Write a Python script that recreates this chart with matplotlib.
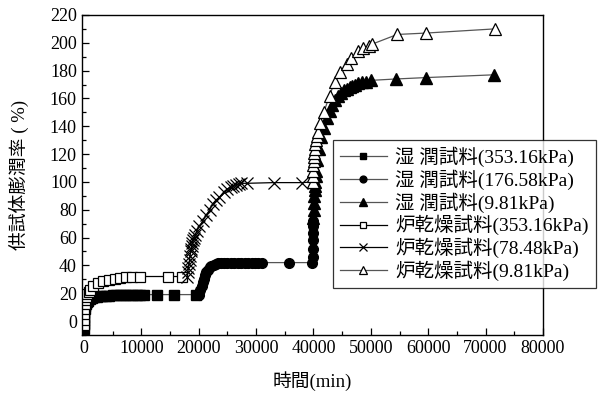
import matplotlib
matplotlib.use('Agg')
import matplotlib.pyplot as plt
from matplotlib.ticker import MultipleLocator

plt.rcParams['font.family'] = ['Liberation Serif', 'Noto Sans CJK JP']
plt.rcParams['axes.unicode_minus'] = False

# 湿潤試料 353.16kPa
wet353_x = [0, 0, 0, 0, 100, 200, 350, 500, 700, 1000, 1400, 1800, 2200, 2700, 3200, 3800, 4400, 5000, 5600,
            6200, 6800, 7400, 8000, 8600, 9200, 9800, 10500, 12650, 15770, 19570]
wet353_y = [-6, -2, 2, 6, 9, 11, 12.5, 13.5, 14.5, 15.5, 16.4, 17, 17.5, 17.8, 18, 18.2, 18.3, 18.4, 18.5,
            18.6, 18.7, 18.7, 18.8, 18.8, 18.9, 18.9, 19, 19, 19, 19]
# 湿潤試料 176.58kPa
wet176_x = [20100, 20300, 20500, 20700, 20900, 21100, 21300, 21600, 21900, 22200, 22600, 23000, 23400, 23900,
            24400, 25000, 25600, 26200, 26800, 27400, 28000, 28600, 29200, 29800, 30400, 31000, 35700,
            39700, 39900, 40000, 40000, 40000, 40000, 40000]
wet176_y = [19, 22, 25, 28, 30.5, 33, 35, 37, 38.5, 39.5, 40.5, 41.2, 41.6, 41.8,
            42, 42, 42, 42, 42, 42, 42, 42, 42, 42, 42, 42, 42,
            42, 46, 52, 58, 63, 68, 72]
# 湿潤試料 9.81kPa
wet981_x = [40000, 40050, 40100, 40150, 40200, 40250, 40300, 40400, 40500, 40700, 41000, 41400, 41800, 42300,
            42800, 43300, 43800, 44300, 44800, 45300, 45800, 46300, 46800, 47300, 47800, 48500, 49200, 50000,
            54400, 59600, 71500]
wet981_y = [74, 80, 85, 90, 94, 97, 100, 104, 108, 116, 124, 132, 139, 146,
            151, 155, 159, 162, 164, 166, 167, 168, 169, 170, 171, 171.5, 172, 173,
            174, 175, 177]
# 炉乾燥試料 353.16kPa
dry353_x = [0, 0, 0, 50, 100, 200, 350, 550, 800, 1100, 1600, 2400, 3300, 4300, 5400, 6200, 7300, 8300,
            9700, 14600, 17000]
dry353_y = [-3, 1, 5, 9, 12, 15, 17.5, 19.5, 21, 22.5, 25, 27.5, 28.6, 29.5, 30.5, 31, 31.5, 31.8,
            32, 32, 32]
# 炉乾燥試料 78.48kPa
dry78_x = [18000, 18100, 18200, 18300, 18400, 18500, 18600, 18700, 18800, 18900, 19000, 19200, 19400, 19700,
           20100, 20700, 21300, 21900, 22400, 23000, 23600, 24400, 25000, 25600, 26000, 26500, 27000, 27300,
           28400, 33100, 38000, 40000]
dry78_y = [32, 35, 38, 41, 44, 47, 50, 52, 54, 56, 58, 60, 62, 65,
           68, 72, 76, 80, 84, 87, 89, 93, 95, 96, 97, 98, 98.5, 99,
           99, 99.5, 99.5, 100]
# 炉乾燥試料 9.81kPa
dry981_x = [40000, 40000, 40000, 40000, 40050, 40100, 40150, 40200, 40300, 40400, 40600, 40800, 41200, 41800,
            42800, 43700, 44700, 45800, 46600, 47800, 48700, 49700, 50200, 54600, 59600, 71600]
dry981_y = [100, 104, 108, 112, 115, 118, 121, 124, 127, 130, 133, 136, 142, 150,
            162, 172, 179, 185, 189, 194, 196, 198, 199, 206, 207, 210]

labels = ['湿 潤試料(353.16kPa)', '湿 潤試料(176.58kPa)', '湿 潤試料(9.81kPa)',
          '炉乾燥試料(353.16kPa)', '炉乾燥試料(78.48kPa)', '炉乾燥試料(9.81kPa)']

fig = plt.figure(figsize=(6.1, 4.05), dpi=100)
ax = fig.add_axes([0.134, 0.173, 0.756, 0.790])

lc = '#555555'
ax.plot(wet353_x, wet353_y, color=lc, lw=0.9, marker='s', ms=6.5, mfc='black', mec='black', label=labels[0])
ax.plot(wet176_x, wet176_y, color=lc, lw=0.9, marker='o', ms=7, mfc='black', mec='black', label=labels[1])
ax.plot(wet981_x, wet981_y, color=lc, lw=0.9, marker='^', ms=8, mfc='black', mec='black', label=labels[2])
ax.plot(dry353_x, dry353_y, color='black', lw=0.9, marker='s', ms=6.5, mfc='white', mec='black', mew=0.9,
        label=labels[3])
ax.plot(dry78_x, dry78_y, color='black', lw=0.9, marker='x', ms=8, mec='black', mew=0.9, label=labels[4])
ax.plot(dry981_x, dry981_y, color=lc, lw=0.9, marker='^', ms=8.5, mfc='white', mec='black', mew=0.9,
        label=labels[5])

ax.set_xlim(-400, 80000)
ax.set_ylim(-10, 220)
ax.xaxis.set_major_locator(MultipleLocator(10000))
ax.xaxis.set_minor_locator(MultipleLocator(5000))
ax.yaxis.set_major_locator(MultipleLocator(20))
ax.yaxis.set_minor_locator(MultipleLocator(10))
ax.tick_params(which='both', direction='in', top=False, right=False, labelsize=13)
ax.tick_params(which='major', length=5, width=0.9)
ax.tick_params(which='minor', length=3, width=0.9)
for s in ax.spines.values():
    s.set_linewidth(1.0)

ax.set_xlabel('時間(min)', fontsize=13.5, labelpad=10)
ax.set_ylabel('供試体膨潤率 ( %)', fontsize=13.5)
ax.yaxis.set_label_coords(-0.115, 0.5)

leg = ax.legend(loc='upper left', bbox_to_anchor=(0.546, 0.654), bbox_transform=fig.transFigure,
                fontsize=14, frameon=True, fancybox=False, edgecolor='black', handlelength=2.4,
                handletextpad=0.45, borderpad=0.35, labelspacing=0.12, borderaxespad=0, markerscale=0.7)
leg.get_frame().set_linewidth(0.9)

fig.savefig('out.png', dpi=100)
